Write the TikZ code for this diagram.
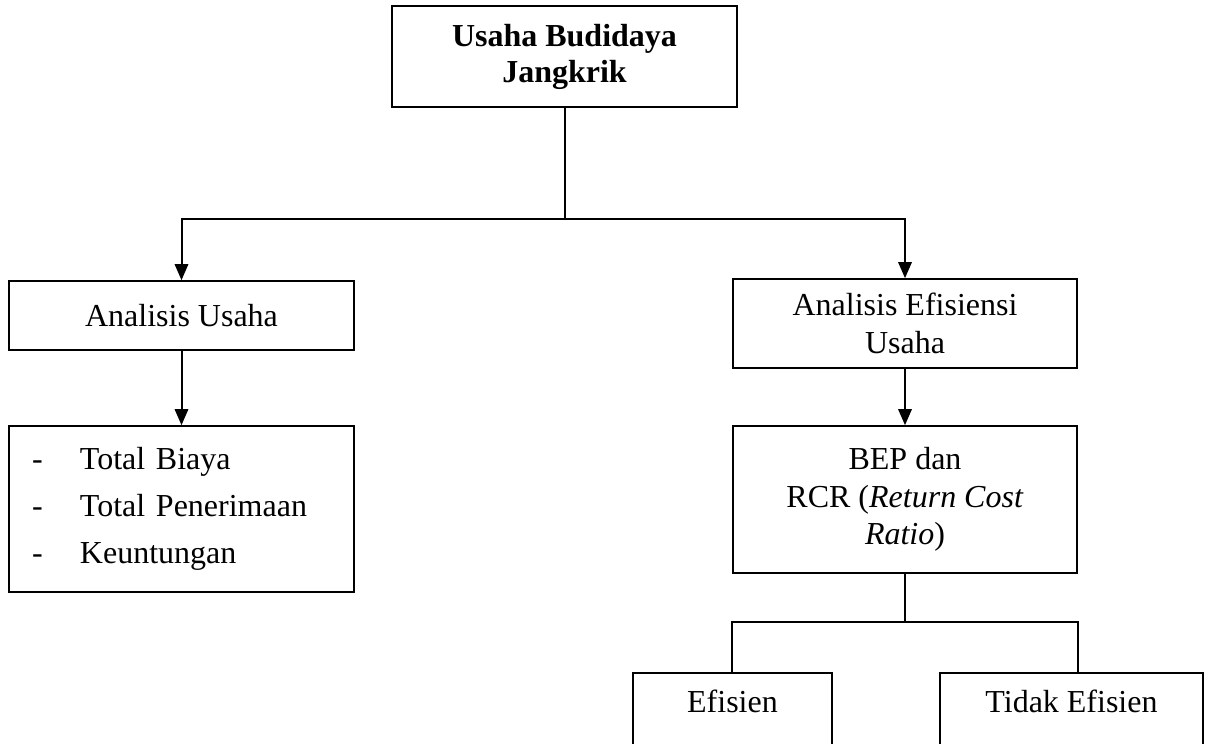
\documentclass[tikz,border=0pt]{standalone}
\usepackage{fontspec}
\setmainfont{Liberation Serif}
\usetikzlibrary{arrows.meta}
\tikzset{
    block/.style={draw=black,line width=1.2pt,inner sep=0pt,align=center},
    splitline/.style={black,line width=1.5pt},
    flowarrow/.style={splitline,-{Triangle[length=12pt,width=10pt]}},
    endblock/.style={draw=black,line width=1.2pt,anchor=north,inner ysep=13pt,text height=17pt,text depth=60pt}
}

\begin{document}
\begin{tikzpicture}[x=0.75pt,y=-0.75pt,font=\fontsize{24}{28}\selectfont]
\useasboundingbox (0,0) rectangle (1205,743);
\fill[white] (0,0) rectangle (1205,743);
\clip (0,0) rectangle (1205,743);
% boxes
\node[block,minimum width=258.75pt,minimum height=75.75pt,font=\fontsize{24}{27}\selectfont\bfseries] (usaha) at (564.5,56.5) {Usaha Budidaya\\Jangkrik};
\node[block,minimum width=258.75pt,minimum height=51.75pt] (analisis) at (181.5,315.5) {Analisis Usaha};
\node[block,minimum width=258pt,minimum height=66.75pt] (efisiensi) at (905,323.5) {Analisis Efisiensi\\Usaha};
\node[block,minimum height=124.5pt,inner xsep=17.25pt,text width=224.25pt,align=left,font=\fontsize{24}{35}\selectfont] (komponen) at (181.5,509)
  {\makebox[36pt][l]{-}Total Biaya\\\makebox[36pt][l]{-}Total Penerimaan\\\makebox[36pt][l]{-}Keuntungan};
\node[block,minimum width=258pt,minimum height=110.25pt] (rcr) at (905,499.5) {BEP dan\\RCR (\textit{Return Cost}\\\textit{Ratio})};
\node[endblock,minimum width=149.25pt] (efisien) at (732.5,672) {Efisien};
\node[endblock,minimum width=197.25pt] (tidak) at (1071.5,672) {Tidak Efisien};
% connectors
\coordinate (fork) at (564.5,219);
\coordinate (forkb) at (905,622);
\draw[splitline] (usaha.south) -- (fork);
\draw[flowarrow] (fork) -| (analisis.north);
\draw[flowarrow] (fork) -| (efisiensi.north);
\draw[flowarrow] (analisis.south) -- (komponen.north);
\draw[flowarrow] (efisiensi.south) -- (rcr.north);
\draw[splitline] (rcr.south) -- (forkb);
\draw[splitline] (forkb) -| (efisiensi.west |- efisien.north);
\draw[splitline] (forkb) -| (efisiensi.east |- tidak.north);
\end{tikzpicture}
\end{document}
